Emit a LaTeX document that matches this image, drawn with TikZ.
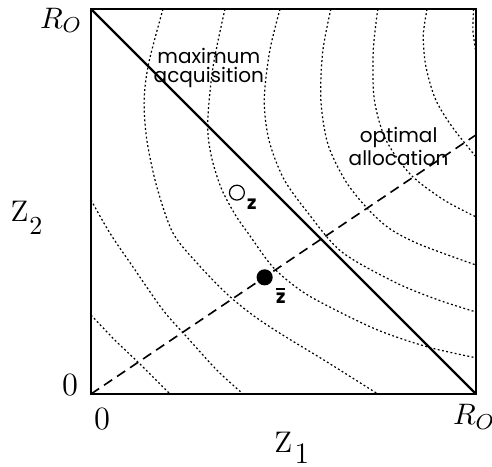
\documentclass[tikz,border=0pt]{standalone}
\usepackage{fontspec}
\newfontfamily\tagfont{Poppins}
\usetikzlibrary{positioning}

\begin{document}
\begin{tikzpicture}[
    x=0.5cm, y=0.5cm,
    frame/.style={line width=0.5pt},
    budget/.style={line width=0.85pt},
    allocation/.style={line width=0.6pt, dash pattern=on 3.6pt off 2.2pt},
    contour/.style={line width=0.45pt, dash pattern=on 0.7pt off 0.9pt},
    tag/.style={font=\tagfont\fontsize{7.4}{7.3}\selectfont, align=center, inner sep=0pt},
    ptlabel/.style={font=\tagfont\bfseries\fontsize{7}{8}\selectfont, inner sep=0pt},
    marker/.style={circle, draw, line width=0.45pt, minimum size=5.5pt, inner sep=0pt},
    axislabel/.style={font=\fontsize{11}{13}\selectfont, inner sep=0pt, anchor=base west},
    endlabel/.style={font=\fontsize{11}{13}\selectfont, inner sep=0pt, anchor=base},
    zerolabel/.style={font=\fontsize{12}{14}\selectfont, inner sep=0pt, anchor=base},
]
    \useasboundingbox (-2.364,-1.896) rectangle (10.416,10.234);

    % Corners of the box
    \coordinate (origin) at (0,0);
    \coordinate (xend) at (10,0);
    \coordinate (yend) at (0,10);
    \coordinate (corner) at (10,10);
    \coordinate (allocend) at (10,6.73);

    % Contours
    \begin{scope}
        \clip (origin) rectangle (corner);
        \draw[contour] plot[smooth] coordinates {(9.94,10) (9.92,9.45) (10,8.86)};
        \draw[contour] plot[smooth] coordinates {(8.73,10) (8.63,9.3) (8.7,8.5) (8.95,7.65) (9.38,6.94) (10,6.16)};
        \draw[contour] plot[smooth] coordinates {(7.45,10) (7.33,8.9) (7.36,7.64) (7.66,6.6) (8.3,5.7) (9.15,5.05) (10,4.6)};
        \draw[contour] plot[smooth] coordinates {(6.23,10) (6.02,8.9) (5.97,7.64) (6.15,6.5) (6.6,5.55) (7.15,4.85) (7.75,4.3) (8.55,3.88) (10,3.35)};
        \draw[contour] plot[smooth] coordinates {(4.91,10) (4.64,8.9) (4.5,7.64) (4.62,6.6) (5.0,5.6) (5.6,4.75) (6.5,3.7) (7.9,2.9) (9.0,2.45) (10,2.13)};
        \draw[contour] plot[smooth] coordinates {(3.48,10) (3.17,8.5) (3.03,7.04) (3.12,6.2) (3.38,5.35) (3.75,4.65) (4.1,4.15) (4.72,3.3) (5.43,2.7) (6.16,2.28) (7.45,1.66) (8.75,1.22) (10,0.94)};
        \draw[contour] plot[smooth] coordinates {(1.87,10) (1.5,8.6) (1.38,7.64) (1.45,6.6) (1.71,5.38) (2.13,4.18) (2.8,3.35) (3.53,2.6) (4.2,2.05) (4.95,1.55) (6.1,0.85) (7.45,0)};
        \draw[contour] plot[smooth] coordinates {(0,5.04) (0.49,4.18) (1.09,3.3) (1.87,2.18) (2.49,1.48) (3.27,0.62) (3.95,0)};
        \draw[contour] plot[smooth] coordinates {(0,2.05) (0.62,1.4) (1.27,0.78) (2.05,0)};
    \end{scope}

    % Box, budget line and allocation line
    \draw[frame] (origin) rectangle (corner);
    \draw[budget] (yend) -- (xend);
    \draw[allocation] (origin) -- (allocend);

    % Points
    \node[marker] (zpt) at (3.79,5.23) {};
    \node[ptlabel, below right=0pt and 1.5pt of zpt] (zlabel) {z};
    \node[marker, fill=black] (zbar) at (4.51,3.03) {};
    \node[ptlabel, below right=1.4pt and 1.9pt of zbar] (zbarlabel) {$\overline{\hbox{z}}$};

    % Line labels
    \node[tag] (maxacq) at (3.06,8.47) {maximum\\acquisition};
    \node[tag] (optalloc) at (7.99,6.42) {optimal\\allocation};

    % Axes
    \node[endlabel] (rtop) at (-0.78,9.5) {$R_O$};
    \node[endlabel] (rright) at (9.95,-0.8) {$R_O$};
    \node[zerolabel] (zeroleft) at (-0.545,-0.03) {0};
    \node[zerolabel] (zerobottom) at (0.29,-0.91) {0};
    \node[axislabel] (zone) at (4.75,-1.52) {Z\kern0.9pt\raisebox{-4pt}{1}};
    \node[axislabel] (ztwo) at (-2.10,4.47) {Z\kern0.3pt\raisebox{-4.8pt}{\fontsize{9.6}{11}\selectfont 2}};
\end{tikzpicture}
\end{document}
